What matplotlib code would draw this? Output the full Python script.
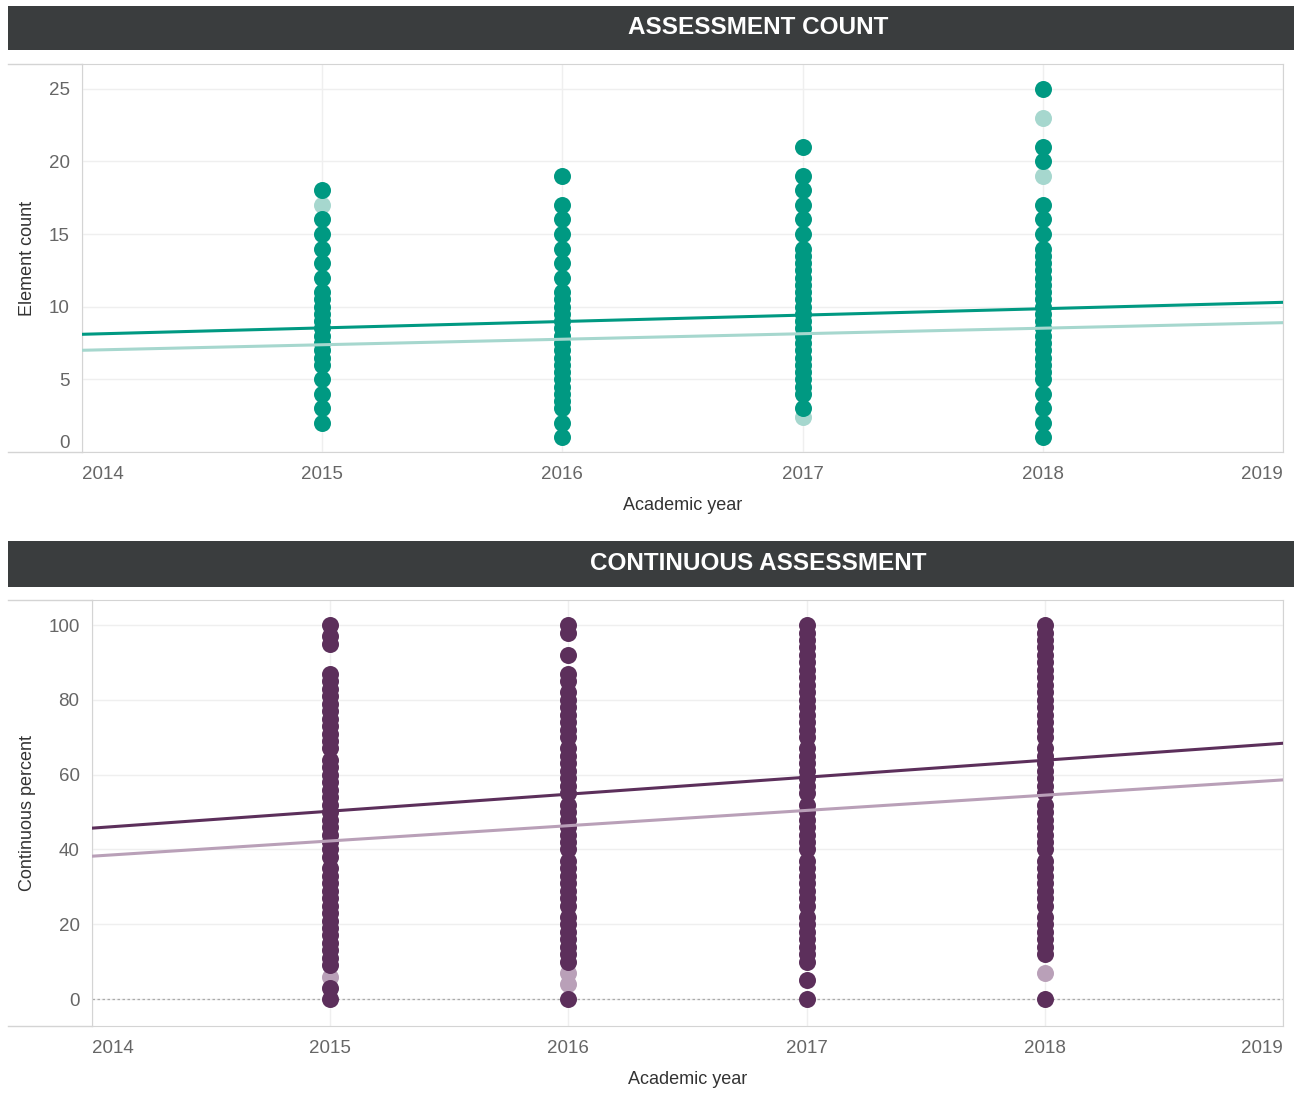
import matplotlib
matplotlib.use('Agg')
import matplotlib.pyplot as plt
from matplotlib.lines import Line2D
from matplotlib.patches import Rectangle

plt.rcParams['font.family'] = ['Liberation Sans', 'DejaVu Sans']

years = [2014, 2015, 2016, 2017, 2018, 2019]

# element counts per academic year (dark = main series, light = second series)
count_2015 = [2, 3, 4, 5, 6, 6.5, 7, 7.5, 8, 8.5, 9, 9.5, 10, 10.5, 11, 12, 13, 14,
              15, 16, 18]
count_2016 = [1, 2, 3, 3.5, 4, 4.5, 5, 5.5, 6, 6.5, 7, 7.5, 8, 8.5, 9, 9.5, 10, 10.5,
              11, 12, 13, 14, 15, 16, 17, 19]
count_2017 = [3, 4, 4.5, 5, 5.5, 6, 6.5, 7, 7.5, 8, 8.5, 9, 9.5, 10, 10.5, 11, 11.5,
              12, 12.5, 13, 13.5, 14, 15, 16, 17, 18, 19, 21]
count_2018 = [1, 2, 3, 4, 5, 5.5, 6, 6.5, 7, 7.5, 8, 8.5, 9, 9.5, 10, 10.5, 11, 11.5,
              12, 12.5, 13, 13.5, 14, 15, 16, 17, 20, 21, 25]
count_light_2015 = [17]
count_light_2017 = [2.4]
count_light_2018 = [19, 23]
count_trend = [8.1, 10.3]       # at 2014, 2019
count_trend_light = [7.0, 8.9]

# continuous percent per academic year
pct_2015 = [0, 3, 9, 11, 13, 15, 17, 19, 21, 23, 25, 27, 29, 31, 33, 35, 38, 40, 42,
            44, 46, 48, 50, 52, 54, 56, 58, 60, 62, 64, 67, 69, 71, 73, 75, 77, 79,
            81, 83, 85, 87, 95, 97, 100]
pct_2016 = [0, 10, 12, 14, 16, 18, 20, 22, 25, 27, 29, 31, 33, 35, 37, 40, 42, 44, 46,
            48, 50, 52, 55, 57, 59, 61, 63, 65, 67, 70, 72, 74, 76, 78, 80, 82, 85,
            87, 92, 98, 100]
pct_2017 = [0, 5, 10, 12, 14, 16, 18, 20, 22, 25, 27, 29, 31, 33, 35, 37, 40, 42, 44,
            46, 48, 50, 52, 55, 57, 59, 61, 63, 65, 67, 70, 72, 74, 76, 78, 80, 82,
            84, 86, 88, 90, 92, 94, 96, 98, 100]
pct_2018 = [0, 12, 14, 16, 18, 20, 22, 25, 27, 29, 31, 33, 35, 37, 40, 42, 44, 46, 48,
            50, 52, 55, 57, 59, 61, 63, 65, 67, 70, 72, 74, 76, 78, 80, 82, 84, 86,
            88, 90, 92, 94, 96, 98, 100]
pct_light_2015 = [6]
pct_light_2016 = [4, 7]
pct_light_2018 = [7]
pct_trend = [45.7, 68.4]
pct_trend_light = [38.2, 58.6]

TEAL, TEAL_L = '#009982', '#a6d7ce'
PURP, PURP_L = '#5c2f5b', '#b9a0b8'
DOT = 150

W, H = 1294, 1115
fig = plt.figure(figsize=(W / 100, H / 100), dpi=100)


def box(l, t, r, b):
    return [l / W, 1 - b / H, (r - l) / W, (b - t) / H]


def header(t, b, text):
    fig.add_artist(Rectangle((8 / W, 1 - b / H), 1286 / W, (b - t) / H,
                             transform=fig.transFigure, color='#3a3d3e', lw=0))
    fig.text(758 / W, 1 - (t + b) / 2 / H, text, color='white', fontsize=17.5,
             fontweight='bold', ha='center', va='center')


def frame_line(y, x1, x2):
    fig.add_artist(Line2D([x1 / W, x2 / W], [1 - y / H] * 2, transform=fig.transFigure,
                          color='#d4d4d4', lw=1))


def style(ax, yticks, ylim):
    ax.set_xlim(2014, 2019)
    ax.set_ylim(*ylim)
    ax.set_xticks(years)
    ax.set_yticks(yticks)
    ax.grid(True, color='#efefef', lw=1)
    ax.set_axisbelow(True)
    for s in ax.spines.values():
        s.set_color('#d4d4d4')
    ax.tick_params(length=0, labelsize=13.5, labelcolor='#666666')
    ax.tick_params(axis='x', pad=10)
    ax.tick_params(axis='y', pad=9)
    xl = ax.get_xticklabels()
    xl[0].set_ha('left')
    xl[-1].set_ha('right')


# ---- top: assessment count
header(6, 50, 'ASSESSMENT COUNT')
ax1 = fig.add_axes(box(82, 64, 1283, 452))
style(ax1, [0, 5, 10, 15, 20, 25], (0, 26.7))
ax1.get_yticklabels()[0].set_va('bottom')
for yr, vals in [(2015, count_light_2015), (2017, count_light_2017), (2018, count_light_2018)]:
    ax1.scatter([yr] * len(vals), vals, s=DOT, color=TEAL_L, lw=0, zorder=2)
for yr, vals in [(2015, count_2015), (2016, count_2016), (2017, count_2017), (2018, count_2018)]:
    ax1.scatter([yr] * len(vals), vals, s=DOT, color=TEAL, lw=0, zorder=3)
ax1.plot([2014, 2019], count_trend, color=TEAL, lw=2.2, zorder=4)
ax1.plot([2014, 2019], count_trend_light, color=TEAL_L, lw=2.2, zorder=4)
frame_line(64, 8, 82)
frame_line(452, 8, 82)
fig.text(682.5 / W, 1 - 505 / H, 'Academic year', fontsize=13, color='#333333',
         ha='center', va='center')
fig.text(28 / W, 1 - 258 / H, 'Element count', fontsize=13, color='#333333',
         ha='center', va='center', rotation=90)

# ---- bottom: continuous assessment
header(541, 587, 'CONTINUOUS ASSESSMENT')
ax2 = fig.add_axes(box(92, 600, 1283, 1026))
style(ax2, [0, 20, 40, 60, 80, 100], (-7.2, 106.7))
ax2.axhline(0, color='#aaaaaa', lw=0.9, ls=(0, (2, 2)), zorder=1)
for yr, vals in [(2015, pct_light_2015), (2016, pct_light_2016), (2018, pct_light_2018)]:
    ax2.scatter([yr] * len(vals), vals, s=DOT, color=PURP_L, lw=0, zorder=2)
for yr, vals in [(2015, pct_2015), (2016, pct_2016), (2017, pct_2017), (2018, pct_2018)]:
    ax2.scatter([yr] * len(vals), vals, s=DOT, color=PURP, lw=0, zorder=3)
ax2.plot([2014, 2019], pct_trend, color=PURP, lw=2.2, zorder=4)
ax2.plot([2014, 2019], pct_trend_light, color=PURP_L, lw=2.2, zorder=4)
frame_line(600, 8, 92)
frame_line(1026, 8, 92)
fig.text(687.5 / W, 1 - 1079 / H, 'Academic year', fontsize=13, color='#333333',
         ha='center', va='center')
fig.text(28 / W, 1 - 813 / H, 'Continuous percent', fontsize=13, color='#333333',
         ha='center', va='center', rotation=90)

fig.savefig('out.png', dpi=100, facecolor='white')
